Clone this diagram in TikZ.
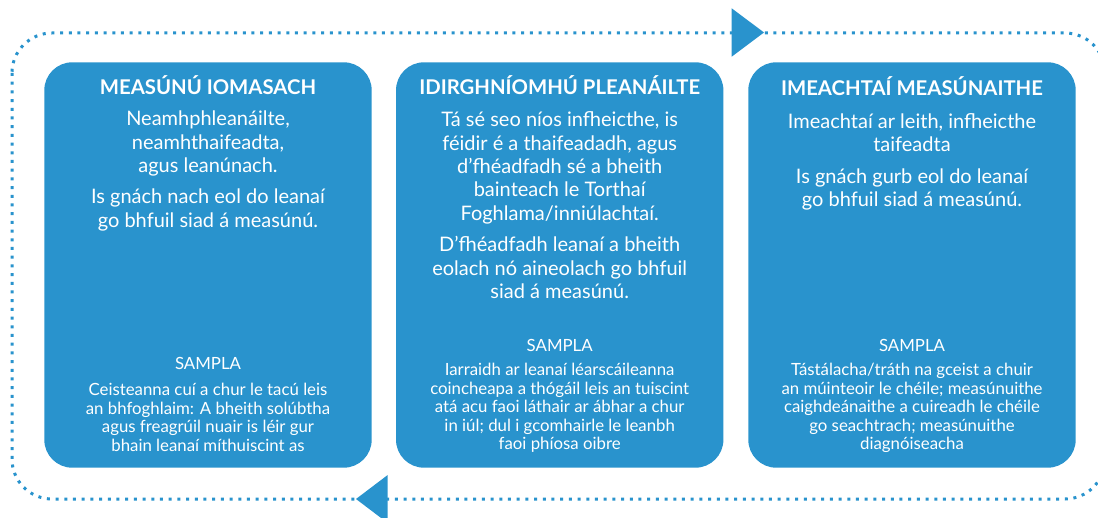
\documentclass[tikz,border=0pt]{standalone}
\usepackage{fontspec}
\setmainfont{Lato}
\definecolor{cblue}{RGB}{41,147,205}
\newcommand{\ml}[1]{\begin{tabular}[t]{@{}c@{}}#1\end{tabular}}
\tikzset{
  box/.style={fill=cblue, rounded corners=28pt, minimum width=327.4pt, minimum height=405.4pt, inner sep=0pt},
  ttl/.style={text=white, inner sep=0pt, anchor=base, font=\fontsize{20.3}{24}\selectfont\bfseries},
  body/.style={text=white, inner sep=0pt, anchor=base, font=\fontsize{20}{23.4}\selectfont},
  shead/.style={text=white, inner sep=0pt, anchor=base, font=\fontsize{16.8}{18.5}\selectfont},
  sbody/.style={text=white, inner sep=0pt, anchor=base, font=\fontsize{16.8}{18.5}\selectfont},
  loop/.style={draw=cblue, line width=3pt, dash pattern=on 3pt off 5.7pt},
  tip/.style={fill=cblue},
}
\begin{document}
\begin{tikzpicture}[x=1pt,y=-1pt]
\useasboundingbox (0,0) rectangle (1098,518);
\clip (0,0) rectangle (1098,518);
% dotted cycle
\draw[loop, rounded corners=40pt] (12,33) rectangle (1105,499);
\coordinate (tt) at (764,32.5);
\coordinate (bt) at (356,499);
\fill[tip] (tt) -- (731.7,8.3) -- (731.7,56.7) -- cycle;
\fill[tip] (bt) -- (387.7,475) -- (387.7,523) -- cycle;
% boxes
\node[box] (b1) at (208,265) {};
\node[box] (b2) at (559.7,265) {};
\node[box] (b3) at (912,265) {};
% box 1
\node[ttl] (t1) at (208,94.5) {MEASÚNÚ IOMASACH};
\node[body] (p11) at (208,126) {\ml{Neamhphleanáilte,\\neamhthaifeadta,\\agus leanúnach.}};
\node[body] (p12) at (208,204) {\ml{Is gnách nach eol do leanaí\\go bhfuil siad á measúnú.}};
\node[shead] (s1) at (208,370) {SAMPLA};
\node[sbody] (e1) at (208,396) {\ml{Ceisteanna cuí a chur le tacú leis\\an bhfoghlaim: A bheith solúbtha\\agus freagrúil nuair is léir gur\\bhain leanaí míthuiscint as}};
% box 2
\node[ttl] (t2) at (559.7,95) {IDIRGHNÍOMHÚ PLEANÁILTE};
\node[body] (p21) at (559.7,126.7) {\ml{Tá sé seo níos infheicthe, is\\féidir é a thaifeadadh, agus\\d’fhéadfadh sé a bheith\\bainteach le Torthaí\\Foghlama/inniúlachtaí.}};
\node[body] (p22) at (559.7,251.7) {\ml{D’fhéadfadh leanaí a bheith\\eolach nó aineolach go bhfuil\\siad á measúnú.}};
\node[shead] (s2) at (559.7,351.7) {SAMPLA};
\node[sbody] (e2) at (559.7,376) {\ml{Iarraidh ar leanaí léarscáileanna\\coincheapa a thógáil leis an tuiscint\\atá acu faoi láthair ar ábhar a chur\\in iúl; dul i gcomhairle le leanbh\\faoi phíosa oibre}};
% box 3
\node[ttl] (t3) at (912,96) {IMEACHTAÍ MEASÚNAITHE};
\node[body] (p31) at (912,128.3) {\ml{Imeachtaí ar leith, infheicthe\\taifeadta}};
\node[body] (p32) at (912,183.3) {\ml{Is gnách gurb eol do leanaí\\go bhfuil siad á measúnú.}};
\node[shead] (s3) at (912,351.7) {SAMPLA};
\node[sbody] (e3) at (912,376) {\ml{Tástálacha/tráth na gceist a chuir\\an múinteoir le chéile; measúnuithe\\caighdeánaithe a cuireadh le chéile\\go seachtrach; measúnuithe\\diagnóiseacha}};
\end{tikzpicture}
\end{document}
